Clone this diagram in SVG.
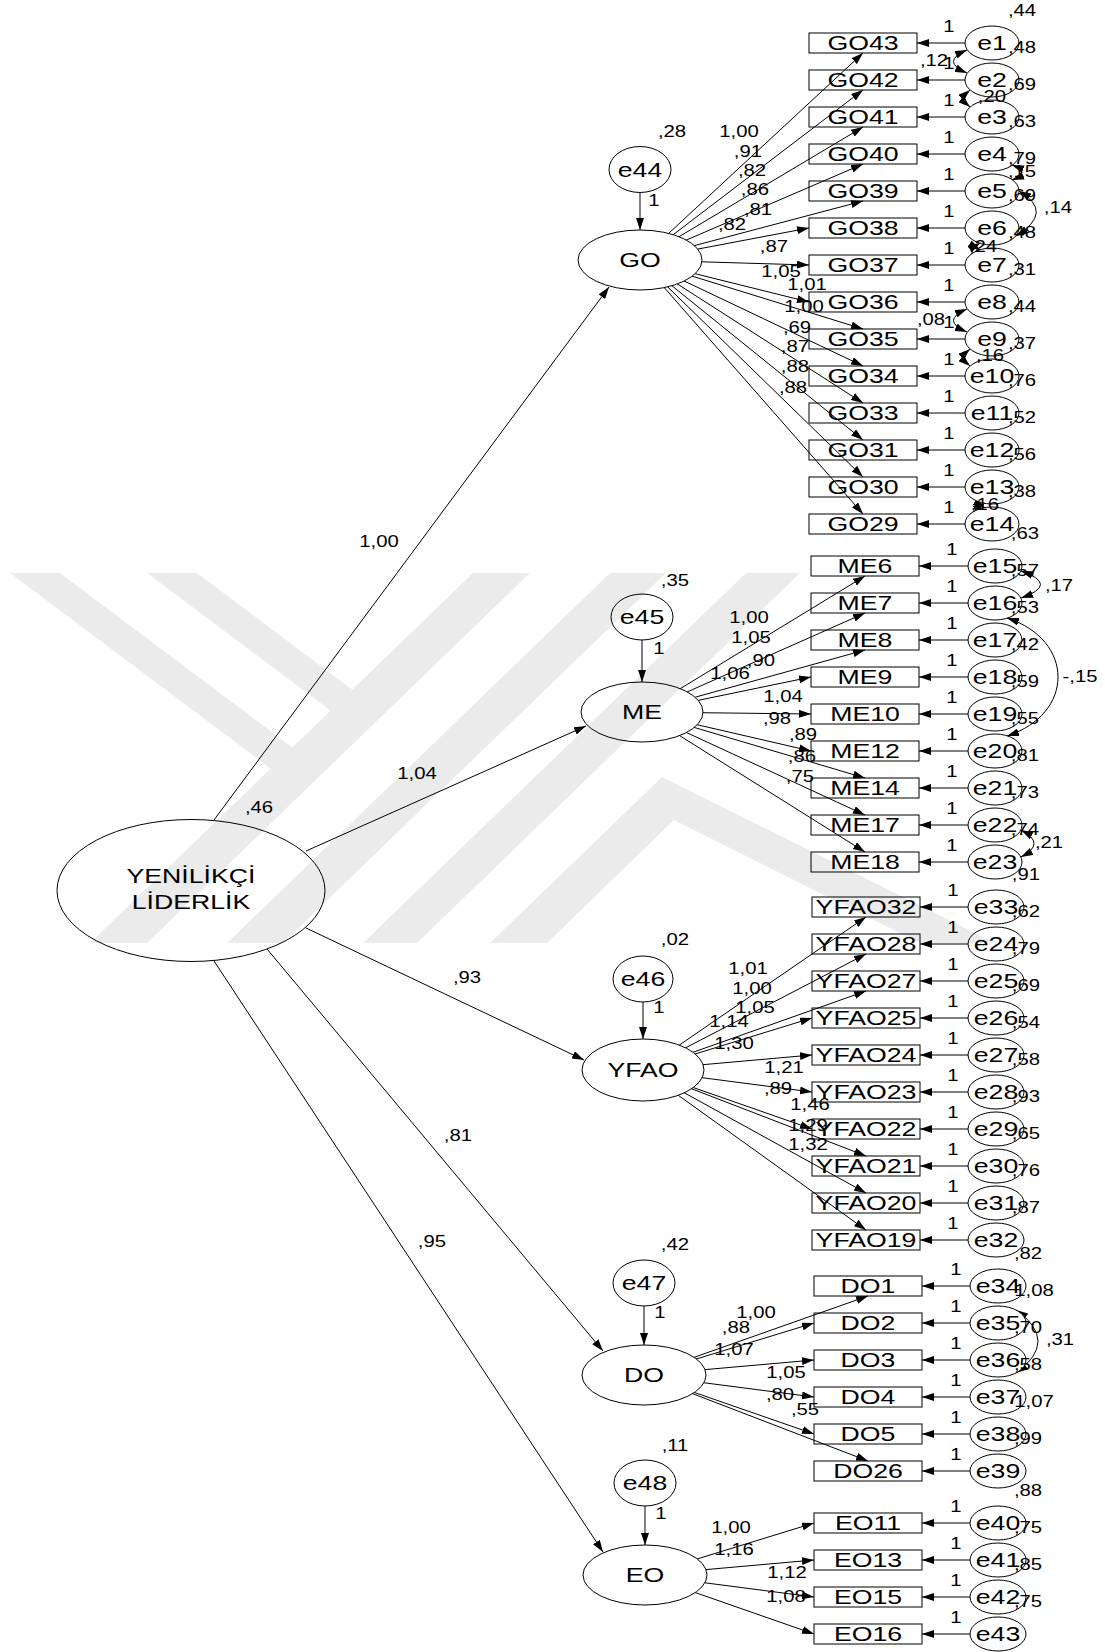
<svg xmlns="http://www.w3.org/2000/svg" width="1105" height="1652" viewBox="0 0 1105 1652">
<defs>
<style>
.t{font-family:"Liberation Sans",Arial,sans-serif;text-anchor:middle;fill:#000;transform-box:fill-box;transform-origin:center;transform:scaleX(1.27)}
.b{font-size:21px}
.s{font-size:16px}
.ln{stroke:#000;stroke-width:1;fill:none;marker-end:url(#ah)}
.cv{stroke:#000;stroke-width:1;fill:none;marker-start:url(#ah);marker-end:url(#ah)}
.lat{fill:#fff;stroke:#000;stroke-width:1}
.obs{fill:none;stroke:#000;stroke-width:1}
</style>
<marker id="ah" viewBox="0 0 12 8" refX="12" refY="4" markerWidth="12" markerHeight="8" markerUnits="userSpaceOnUse" orient="auto-start-reverse"><path d="M0,0L12,4L0,8z" fill="#000"/></marker>
</defs>
<rect width="1105" height="1652" fill="#fff"/>
<g id="connectors">
<line class="ln" x1="214" y1="820" x2="609" y2="287"/>
<line class="ln" x1="306" y1="851" x2="586" y2="726"/>
<line class="ln" x1="306" y1="928" x2="584" y2="1060"/>
<line class="ln" x1="267" y1="949" x2="603" y2="1351"/>
<line class="ln" x1="214" y1="961" x2="603" y2="1552"/>
<line class="ln" x1="640" y1="192" x2="640" y2="230"/>
<line class="ln" x1="642" y1="640" x2="642" y2="682"/>
<line class="ln" x1="643" y1="1002" x2="643" y2="1039"/>
<line class="ln" x1="644" y1="1306" x2="644" y2="1345"/>
<line class="ln" x1="645" y1="1506" x2="645" y2="1545"/>
<line class="ln" x1="640" y1="260" x2="863" y2="53"/>
<line class="ln" x1="640" y1="260" x2="863" y2="90"/>
<line class="ln" x1="640" y1="260" x2="863" y2="127"/>
<line class="ln" x1="640" y1="260" x2="863" y2="164"/>
<line class="ln" x1="640" y1="260" x2="863" y2="201"/>
<line class="ln" x1="640" y1="260" x2="809" y2="228"/>
<line class="ln" x1="640" y1="260" x2="809" y2="265"/>
<line class="ln" x1="640" y1="260" x2="809" y2="302"/>
<line class="ln" x1="640" y1="260" x2="863" y2="329"/>
<line class="ln" x1="640" y1="260" x2="863" y2="366"/>
<line class="ln" x1="640" y1="260" x2="863" y2="403"/>
<line class="ln" x1="640" y1="260" x2="863" y2="440"/>
<line class="ln" x1="640" y1="260" x2="863" y2="477"/>
<line class="ln" x1="640" y1="260" x2="863" y2="514"/>
<line class="ln" x1="642" y1="712" x2="865" y2="576"/>
<line class="ln" x1="642" y1="712" x2="865" y2="613"/>
<line class="ln" x1="642" y1="712" x2="865" y2="650"/>
<line class="ln" x1="642" y1="712" x2="811" y2="677"/>
<line class="ln" x1="642" y1="712" x2="811" y2="714"/>
<line class="ln" x1="642" y1="712" x2="811" y2="751"/>
<line class="ln" x1="642" y1="712" x2="865" y2="778"/>
<line class="ln" x1="642" y1="712" x2="865" y2="815"/>
<line class="ln" x1="642" y1="712" x2="865" y2="852"/>
<line class="ln" x1="643" y1="1070" x2="866" y2="917"/>
<line class="ln" x1="643" y1="1070" x2="866" y2="954"/>
<line class="ln" x1="643" y1="1070" x2="866" y2="991"/>
<line class="ln" x1="643" y1="1070" x2="812" y2="1018"/>
<line class="ln" x1="643" y1="1070" x2="812" y2="1055"/>
<line class="ln" x1="643" y1="1070" x2="812" y2="1092"/>
<line class="ln" x1="643" y1="1070" x2="812" y2="1129"/>
<line class="ln" x1="643" y1="1070" x2="866" y2="1156"/>
<line class="ln" x1="643" y1="1070" x2="866" y2="1193"/>
<line class="ln" x1="643" y1="1070" x2="866" y2="1230"/>
<line class="ln" x1="644" y1="1375" x2="868" y2="1296"/>
<line class="ln" x1="644" y1="1375" x2="814" y2="1323"/>
<line class="ln" x1="644" y1="1375" x2="814" y2="1360"/>
<line class="ln" x1="644" y1="1375" x2="814" y2="1397"/>
<line class="ln" x1="644" y1="1375" x2="814" y2="1434"/>
<line class="ln" x1="644" y1="1375" x2="868" y2="1461"/>
<line class="ln" x1="645" y1="1575" x2="814" y2="1523"/>
<line class="ln" x1="645" y1="1575" x2="814" y2="1560"/>
<line class="ln" x1="645" y1="1575" x2="814" y2="1597"/>
<line class="ln" x1="645" y1="1575" x2="814" y2="1634"/>
<line class="ln" x1="992" y1="43" x2="917" y2="43"/>
<line class="ln" x1="992" y1="80" x2="917" y2="80"/>
<line class="ln" x1="992" y1="117" x2="917" y2="117"/>
<line class="ln" x1="992" y1="154" x2="917" y2="154"/>
<line class="ln" x1="992" y1="191" x2="917" y2="191"/>
<line class="ln" x1="992" y1="228" x2="917" y2="228"/>
<line class="ln" x1="992" y1="265" x2="917" y2="265"/>
<line class="ln" x1="992" y1="302" x2="917" y2="302"/>
<line class="ln" x1="992" y1="339" x2="917" y2="339"/>
<line class="ln" x1="992" y1="376" x2="917" y2="376"/>
<line class="ln" x1="992" y1="413" x2="917" y2="413"/>
<line class="ln" x1="992" y1="450" x2="917" y2="450"/>
<line class="ln" x1="992" y1="487" x2="917" y2="487"/>
<line class="ln" x1="992" y1="524" x2="917" y2="524"/>
<line class="ln" x1="995" y1="566" x2="919" y2="566"/>
<line class="ln" x1="995" y1="603" x2="919" y2="603"/>
<line class="ln" x1="995" y1="640" x2="919" y2="640"/>
<line class="ln" x1="995" y1="677" x2="919" y2="677"/>
<line class="ln" x1="995" y1="714" x2="919" y2="714"/>
<line class="ln" x1="995" y1="751" x2="919" y2="751"/>
<line class="ln" x1="995" y1="788" x2="919" y2="788"/>
<line class="ln" x1="995" y1="825" x2="919" y2="825"/>
<line class="ln" x1="995" y1="862" x2="919" y2="862"/>
<line class="ln" x1="996" y1="907" x2="920" y2="907"/>
<line class="ln" x1="996" y1="944" x2="920" y2="944"/>
<line class="ln" x1="996" y1="981" x2="920" y2="981"/>
<line class="ln" x1="996" y1="1018" x2="920" y2="1018"/>
<line class="ln" x1="996" y1="1055" x2="920" y2="1055"/>
<line class="ln" x1="996" y1="1092" x2="920" y2="1092"/>
<line class="ln" x1="996" y1="1129" x2="920" y2="1129"/>
<line class="ln" x1="996" y1="1166" x2="920" y2="1166"/>
<line class="ln" x1="996" y1="1203" x2="920" y2="1203"/>
<line class="ln" x1="996" y1="1240" x2="920" y2="1240"/>
<line class="ln" x1="998" y1="1286" x2="922" y2="1286"/>
<line class="ln" x1="998" y1="1323" x2="922" y2="1323"/>
<line class="ln" x1="998" y1="1360" x2="922" y2="1360"/>
<line class="ln" x1="998" y1="1397" x2="922" y2="1397"/>
<line class="ln" x1="998" y1="1434" x2="922" y2="1434"/>
<line class="ln" x1="998" y1="1471" x2="922" y2="1471"/>
<line class="ln" x1="998" y1="1523" x2="922" y2="1523"/>
<line class="ln" x1="998" y1="1560" x2="922" y2="1560"/>
<line class="ln" x1="998" y1="1597" x2="922" y2="1597"/>
<line class="ln" x1="998" y1="1634" x2="922" y2="1634"/>
<path class="cv" d="M967,50 Q940,61.5 967,73"/>
<path class="cv" d="M970,90 Q960,98.5 970,107"/>
<path class="cv" d="M1012,165 Q1032,172.5 1012,180"/>
<path class="cv" d="M1019,191 Q1055,212 1016,236"/>
<path class="cv" d="M980,243 Q974,246.5 980,250"/>
<path class="cv" d="M967,309 Q940,320.5 967,332"/>
<path class="cv" d="M970,349 Q960,357.5 970,366"/>
<path class="cv" d="M985,503 Q981,505.5 985,508"/>
<path class="cv" d="M1021,571 Q1060,584.5 1021,598"/>
<path class="cv" d="M1007,618 C1075,640 1075,714 1007,736"/>
<path class="cv" d="M1021,830 Q1047,843.5 1021,857"/>
<path class="cv" d="M1016,1310 Q1060,1341 1016,1373"/>
</g>
<g id="YENILIKCI_LIDERLIK"><ellipse class="lat" cx="191" cy="890.5" rx="134" ry="71"/><text class="t b" x="191" y="883">YENİLİKÇİ</text><text class="t b" x="191" y="909">LİDERLİK</text></g>
<g id="GO"><ellipse class="lat" cx="640" cy="260" rx="62" ry="30"/><text class="t b" x="640" y="267.5">GO</text></g>
<g id="ME"><ellipse class="lat" cx="642" cy="712" rx="61" ry="30"/><text class="t b" x="642" y="719.5">ME</text></g>
<g id="YFAO"><ellipse class="lat" cx="643" cy="1070" rx="61" ry="31"/><text class="t b" x="643" y="1077.5">YFAO</text></g>
<g id="DO"><ellipse class="lat" cx="644" cy="1375" rx="62" ry="30"/><text class="t b" x="644" y="1382.5">DO</text></g>
<g id="EO"><ellipse class="lat" cx="645" cy="1575" rx="62" ry="30"/><text class="t b" x="645" y="1582.5">EO</text></g>
<g id="e44"><ellipse class="lat" cx="640" cy="169.5" rx="31" ry="23"/><text class="t b" x="640" y="177">e44</text></g>
<g id="e45"><ellipse class="lat" cx="642" cy="617" rx="31" ry="23"/><text class="t b" x="642" y="624.5">e45</text></g>
<g id="e46"><ellipse class="lat" cx="643" cy="979" rx="30" ry="23"/><text class="t b" x="643" y="986.5">e46</text></g>
<g id="e47"><ellipse class="lat" cx="644" cy="1283" rx="31" ry="23"/><text class="t b" x="644" y="1290.5">e47</text></g>
<g id="e48"><ellipse class="lat" cx="645" cy="1483" rx="31" ry="23"/><text class="t b" x="645" y="1490.5">e48</text></g>
<g id="GO43"><rect class="obs" x="809" y="33" width="108" height="20"/><text class="t b" x="863" y="50.5">GO43</text></g>
<g id="GO42"><rect class="obs" x="809" y="70" width="108" height="20"/><text class="t b" x="863" y="87.5">GO42</text></g>
<g id="GO41"><rect class="obs" x="809" y="107" width="108" height="20"/><text class="t b" x="863" y="124.5">GO41</text></g>
<g id="GO40"><rect class="obs" x="809" y="144" width="108" height="20"/><text class="t b" x="863" y="161.5">GO40</text></g>
<g id="GO39"><rect class="obs" x="809" y="181" width="108" height="20"/><text class="t b" x="863" y="198.5">GO39</text></g>
<g id="GO38"><rect class="obs" x="809" y="218" width="108" height="20"/><text class="t b" x="863" y="235.5">GO38</text></g>
<g id="GO37"><rect class="obs" x="809" y="255" width="108" height="20"/><text class="t b" x="863" y="272.5">GO37</text></g>
<g id="GO36"><rect class="obs" x="809" y="292" width="108" height="20"/><text class="t b" x="863" y="309.5">GO36</text></g>
<g id="GO35"><rect class="obs" x="809" y="329" width="108" height="20"/><text class="t b" x="863" y="346.5">GO35</text></g>
<g id="GO34"><rect class="obs" x="809" y="366" width="108" height="20"/><text class="t b" x="863" y="383.5">GO34</text></g>
<g id="GO33"><rect class="obs" x="809" y="403" width="108" height="20"/><text class="t b" x="863" y="420.5">GO33</text></g>
<g id="GO31"><rect class="obs" x="809" y="440" width="108" height="20"/><text class="t b" x="863" y="457.5">GO31</text></g>
<g id="GO30"><rect class="obs" x="809" y="477" width="108" height="20"/><text class="t b" x="863" y="494.5">GO30</text></g>
<g id="GO29"><rect class="obs" x="809" y="514" width="108" height="20"/><text class="t b" x="863" y="531.5">GO29</text></g>
<g id="ME6"><rect class="obs" x="811" y="556" width="108" height="20"/><text class="t b" x="865" y="573.5">ME6</text></g>
<g id="ME7"><rect class="obs" x="811" y="593" width="108" height="20"/><text class="t b" x="865" y="610.5">ME7</text></g>
<g id="ME8"><rect class="obs" x="811" y="630" width="108" height="20"/><text class="t b" x="865" y="647.5">ME8</text></g>
<g id="ME9"><rect class="obs" x="811" y="667" width="108" height="20"/><text class="t b" x="865" y="684.5">ME9</text></g>
<g id="ME10"><rect class="obs" x="811" y="704" width="108" height="20"/><text class="t b" x="865" y="721.5">ME10</text></g>
<g id="ME12"><rect class="obs" x="811" y="741" width="108" height="20"/><text class="t b" x="865" y="758.5">ME12</text></g>
<g id="ME14"><rect class="obs" x="811" y="778" width="108" height="20"/><text class="t b" x="865" y="795.5">ME14</text></g>
<g id="ME17"><rect class="obs" x="811" y="815" width="108" height="20"/><text class="t b" x="865" y="832.5">ME17</text></g>
<g id="ME18"><rect class="obs" x="811" y="852" width="108" height="20"/><text class="t b" x="865" y="869.5">ME18</text></g>
<g id="YFAO32"><rect class="obs" x="812" y="897" width="108" height="20"/><text class="t b" x="866" y="914.5">YFAO32</text></g>
<g id="YFAO28"><rect class="obs" x="812" y="934" width="108" height="20"/><text class="t b" x="866" y="951.5">YFAO28</text></g>
<g id="YFAO27"><rect class="obs" x="812" y="971" width="108" height="20"/><text class="t b" x="866" y="988.5">YFAO27</text></g>
<g id="YFAO25"><rect class="obs" x="812" y="1008" width="108" height="20"/><text class="t b" x="866" y="1025.5">YFAO25</text></g>
<g id="YFAO24"><rect class="obs" x="812" y="1045" width="108" height="20"/><text class="t b" x="866" y="1062.5">YFAO24</text></g>
<g id="YFAO23"><rect class="obs" x="812" y="1082" width="108" height="20"/><text class="t b" x="866" y="1099.5">YFAO23</text></g>
<g id="YFAO22"><rect class="obs" x="812" y="1119" width="108" height="20"/><text class="t b" x="866" y="1136.5">YFAO22</text></g>
<g id="YFAO21"><rect class="obs" x="812" y="1156" width="108" height="20"/><text class="t b" x="866" y="1173.5">YFAO21</text></g>
<g id="YFAO20"><rect class="obs" x="812" y="1193" width="108" height="20"/><text class="t b" x="866" y="1210.5">YFAO20</text></g>
<g id="YFAO19"><rect class="obs" x="812" y="1230" width="108" height="20"/><text class="t b" x="866" y="1247.5">YFAO19</text></g>
<g id="DO1"><rect class="obs" x="814" y="1276" width="108" height="20"/><text class="t b" x="868" y="1293.5">DO1</text></g>
<g id="DO2"><rect class="obs" x="814" y="1313" width="108" height="20"/><text class="t b" x="868" y="1330.5">DO2</text></g>
<g id="DO3"><rect class="obs" x="814" y="1350" width="108" height="20"/><text class="t b" x="868" y="1367.5">DO3</text></g>
<g id="DO4"><rect class="obs" x="814" y="1387" width="108" height="20"/><text class="t b" x="868" y="1404.5">DO4</text></g>
<g id="DO5"><rect class="obs" x="814" y="1424" width="108" height="20"/><text class="t b" x="868" y="1441.5">DO5</text></g>
<g id="DO26"><rect class="obs" x="814" y="1461" width="108" height="20"/><text class="t b" x="868" y="1478.5">DO26</text></g>
<g id="EO11"><rect class="obs" x="814" y="1513" width="108" height="20"/><text class="t b" x="868" y="1530.5">EO11</text></g>
<g id="EO13"><rect class="obs" x="814" y="1550" width="108" height="20"/><text class="t b" x="868" y="1567.5">EO13</text></g>
<g id="EO15"><rect class="obs" x="814" y="1587" width="108" height="20"/><text class="t b" x="868" y="1604.5">EO15</text></g>
<g id="EO16"><rect class="obs" x="814" y="1624" width="108" height="20"/><text class="t b" x="868" y="1641.5">EO16</text></g>
<g id="e1"><ellipse class="lat" cx="992" cy="43" rx="27" ry="17"/><text class="t b" x="992" y="50.5">e1</text></g>
<g id="e2"><ellipse class="lat" cx="992" cy="80" rx="27" ry="17"/><text class="t b" x="992" y="87.5">e2</text></g>
<g id="e3"><ellipse class="lat" cx="992" cy="117" rx="27" ry="17"/><text class="t b" x="992" y="124.5">e3</text></g>
<g id="e4"><ellipse class="lat" cx="992" cy="154" rx="27" ry="17"/><text class="t b" x="992" y="161.5">e4</text></g>
<g id="e5"><ellipse class="lat" cx="992" cy="191" rx="27" ry="17"/><text class="t b" x="992" y="198.5">e5</text></g>
<g id="e6"><ellipse class="lat" cx="992" cy="228" rx="27" ry="17"/><text class="t b" x="992" y="235.5">e6</text></g>
<g id="e7"><ellipse class="lat" cx="992" cy="265" rx="27" ry="17"/><text class="t b" x="992" y="272.5">e7</text></g>
<g id="e8"><ellipse class="lat" cx="992" cy="302" rx="27" ry="17"/><text class="t b" x="992" y="309.5">e8</text></g>
<g id="e9"><ellipse class="lat" cx="992" cy="339" rx="27" ry="17"/><text class="t b" x="992" y="346.5">e9</text></g>
<g id="e10"><ellipse class="lat" cx="992" cy="376" rx="27" ry="17"/><text class="t b" x="992" y="383.5">e10</text></g>
<g id="e11"><ellipse class="lat" cx="992" cy="413" rx="27" ry="17"/><text class="t b" x="992" y="420.5">e11</text></g>
<g id="e12"><ellipse class="lat" cx="992" cy="450" rx="27" ry="17"/><text class="t b" x="992" y="457.5">e12</text></g>
<g id="e13"><ellipse class="lat" cx="992" cy="487" rx="27" ry="17"/><text class="t b" x="992" y="494.5">e13</text></g>
<g id="e14"><ellipse class="lat" cx="992" cy="524" rx="27" ry="17"/><text class="t b" x="992" y="531.5">e14</text></g>
<g id="e15"><ellipse class="lat" cx="995" cy="566" rx="27" ry="17"/><text class="t b" x="995" y="573.5">e15</text></g>
<g id="e16"><ellipse class="lat" cx="995" cy="603" rx="27" ry="17"/><text class="t b" x="995" y="610.5">e16</text></g>
<g id="e17"><ellipse class="lat" cx="995" cy="640" rx="27" ry="17"/><text class="t b" x="995" y="647.5">e17</text></g>
<g id="e18"><ellipse class="lat" cx="995" cy="677" rx="27" ry="17"/><text class="t b" x="995" y="684.5">e18</text></g>
<g id="e19"><ellipse class="lat" cx="995" cy="714" rx="27" ry="17"/><text class="t b" x="995" y="721.5">e19</text></g>
<g id="e20"><ellipse class="lat" cx="995" cy="751" rx="27" ry="17"/><text class="t b" x="995" y="758.5">e20</text></g>
<g id="e21"><ellipse class="lat" cx="995" cy="788" rx="27" ry="17"/><text class="t b" x="995" y="795.5">e21</text></g>
<g id="e22"><ellipse class="lat" cx="995" cy="825" rx="27" ry="17"/><text class="t b" x="995" y="832.5">e22</text></g>
<g id="e23"><ellipse class="lat" cx="995" cy="862" rx="27" ry="17"/><text class="t b" x="995" y="869.5">e23</text></g>
<g id="e33"><ellipse class="lat" cx="996" cy="907" rx="28" ry="17"/><text class="t b" x="996" y="914.5">e33</text></g>
<g id="e24"><ellipse class="lat" cx="996" cy="944" rx="28" ry="17"/><text class="t b" x="996" y="951.5">e24</text></g>
<g id="e25"><ellipse class="lat" cx="996" cy="981" rx="28" ry="17"/><text class="t b" x="996" y="988.5">e25</text></g>
<g id="e26"><ellipse class="lat" cx="996" cy="1018" rx="28" ry="17"/><text class="t b" x="996" y="1025.5">e26</text></g>
<g id="e27"><ellipse class="lat" cx="996" cy="1055" rx="28" ry="17"/><text class="t b" x="996" y="1062.5">e27</text></g>
<g id="e28"><ellipse class="lat" cx="996" cy="1092" rx="28" ry="17"/><text class="t b" x="996" y="1099.5">e28</text></g>
<g id="e29"><ellipse class="lat" cx="996" cy="1129" rx="28" ry="17"/><text class="t b" x="996" y="1136.5">e29</text></g>
<g id="e30"><ellipse class="lat" cx="996" cy="1166" rx="28" ry="17"/><text class="t b" x="996" y="1173.5">e30</text></g>
<g id="e31"><ellipse class="lat" cx="996" cy="1203" rx="28" ry="17"/><text class="t b" x="996" y="1210.5">e31</text></g>
<g id="e32"><ellipse class="lat" cx="996" cy="1240" rx="28" ry="17"/><text class="t b" x="996" y="1247.5">e32</text></g>
<g id="e34"><ellipse class="lat" cx="998" cy="1286" rx="28" ry="17"/><text class="t b" x="998" y="1293.5">e34</text></g>
<g id="e35"><ellipse class="lat" cx="998" cy="1323" rx="28" ry="17"/><text class="t b" x="998" y="1330.5">e35</text></g>
<g id="e36"><ellipse class="lat" cx="998" cy="1360" rx="28" ry="17"/><text class="t b" x="998" y="1367.5">e36</text></g>
<g id="e37"><ellipse class="lat" cx="998" cy="1397" rx="28" ry="17"/><text class="t b" x="998" y="1404.5">e37</text></g>
<g id="e38"><ellipse class="lat" cx="998" cy="1434" rx="28" ry="17"/><text class="t b" x="998" y="1441.5">e38</text></g>
<g id="e39"><ellipse class="lat" cx="998" cy="1471" rx="28" ry="17"/><text class="t b" x="998" y="1478.5">e39</text></g>
<g id="e40"><ellipse class="lat" cx="998" cy="1523" rx="28" ry="17"/><text class="t b" x="998" y="1530.5">e40</text></g>
<g id="e41"><ellipse class="lat" cx="998" cy="1560" rx="28" ry="17"/><text class="t b" x="998" y="1567.5">e41</text></g>
<g id="e42"><ellipse class="lat" cx="998" cy="1597" rx="28" ry="17"/><text class="t b" x="998" y="1604.5">e42</text></g>
<g id="e43"><ellipse class="lat" cx="998" cy="1634" rx="28" ry="17"/><text class="t b" x="998" y="1641.5">e43</text></g>
<g id="labels" class="s">
<text class="t s" x="379" y="547">1,00</text>
<text class="t s" x="417" y="779">1,04</text>
<text class="t s" x="467" y="983">,93</text>
<text class="t s" x="458" y="1141">,81</text>
<text class="t s" x="432" y="1247">,95</text>
<text class="t s" x="259" y="813">,46</text>
<text class="t s" x="672" y="137">,28</text>
<text class="t s" x="654" y="206">1</text>
<text class="t s" x="675" y="586">,35</text>
<text class="t s" x="659" y="654">1</text>
<text class="t s" x="675" y="945">,02</text>
<text class="t s" x="659" y="1013">1</text>
<text class="t s" x="675" y="1250">,42</text>
<text class="t s" x="660" y="1318">1</text>
<text class="t s" x="675" y="1451">,11</text>
<text class="t s" x="661" y="1519">1</text>
<text class="t s" x="739" y="137">1,00</text>
<text class="t s" x="748" y="157">,91</text>
<text class="t s" x="752" y="176">,82</text>
<text class="t s" x="755" y="195">,86</text>
<text class="t s" x="758" y="215">,81</text>
<text class="t s" x="732" y="230">,82</text>
<text class="t s" x="774" y="252">,87</text>
<text class="t s" x="781" y="277">1,05</text>
<text class="t s" x="807" y="290">1,01</text>
<text class="t s" x="804" y="312">1,00</text>
<text class="t s" x="797" y="333">,69</text>
<text class="t s" x="795" y="352">,87</text>
<text class="t s" x="795" y="372">,88</text>
<text class="t s" x="793" y="393">,88</text>
<text class="t s" x="749" y="623">1,00</text>
<text class="t s" x="751" y="643">1,05</text>
<text class="t s" x="761" y="666">,90</text>
<text class="t s" x="730" y="679">1,06</text>
<text class="t s" x="783" y="702">1,04</text>
<text class="t s" x="777" y="724">,98</text>
<text class="t s" x="803" y="740">,89</text>
<text class="t s" x="802" y="762">,86</text>
<text class="t s" x="800" y="782">,75</text>
<text class="t s" x="748" y="974">1,01</text>
<text class="t s" x="752" y="994">1,00</text>
<text class="t s" x="755" y="1013">1,05</text>
<text class="t s" x="729" y="1027">1,14</text>
<text class="t s" x="734" y="1049">1,30</text>
<text class="t s" x="784" y="1073">1,21</text>
<text class="t s" x="778" y="1094">,89</text>
<text class="t s" x="810" y="1110">1,46</text>
<text class="t s" x="808" y="1131">1,29</text>
<text class="t s" x="808" y="1150">1,32</text>
<text class="t s" x="756" y="1318">1,00</text>
<text class="t s" x="736" y="1333">,88</text>
<text class="t s" x="734" y="1355">1,07</text>
<text class="t s" x="786" y="1378">1,05</text>
<text class="t s" x="780" y="1400">,80</text>
<text class="t s" x="805" y="1415">,55</text>
<text class="t s" x="731" y="1533">1,00</text>
<text class="t s" x="734" y="1555">1,16</text>
<text class="t s" x="787" y="1578">1,12</text>
<text class="t s" x="786" y="1602">1,08</text>
<text class="t s" x="949" y="32">1</text>
<text class="t s" x="949" y="69">1</text>
<text class="t s" x="949" y="106">1</text>
<text class="t s" x="949" y="143">1</text>
<text class="t s" x="949" y="180">1</text>
<text class="t s" x="949" y="217">1</text>
<text class="t s" x="949" y="254">1</text>
<text class="t s" x="949" y="291">1</text>
<text class="t s" x="949" y="328">1</text>
<text class="t s" x="949" y="365">1</text>
<text class="t s" x="949" y="402">1</text>
<text class="t s" x="949" y="439">1</text>
<text class="t s" x="949" y="476">1</text>
<text class="t s" x="949" y="513">1</text>
<text class="t s" x="952" y="555">1</text>
<text class="t s" x="952" y="592">1</text>
<text class="t s" x="952" y="629">1</text>
<text class="t s" x="952" y="666">1</text>
<text class="t s" x="952" y="703">1</text>
<text class="t s" x="952" y="740">1</text>
<text class="t s" x="952" y="777">1</text>
<text class="t s" x="952" y="814">1</text>
<text class="t s" x="952" y="851">1</text>
<text class="t s" x="953" y="896">1</text>
<text class="t s" x="953" y="933">1</text>
<text class="t s" x="953" y="970">1</text>
<text class="t s" x="953" y="1007">1</text>
<text class="t s" x="953" y="1044">1</text>
<text class="t s" x="953" y="1081">1</text>
<text class="t s" x="953" y="1118">1</text>
<text class="t s" x="953" y="1155">1</text>
<text class="t s" x="953" y="1192">1</text>
<text class="t s" x="953" y="1229">1</text>
<text class="t s" x="956" y="1275">1</text>
<text class="t s" x="956" y="1312">1</text>
<text class="t s" x="956" y="1349">1</text>
<text class="t s" x="956" y="1386">1</text>
<text class="t s" x="956" y="1423">1</text>
<text class="t s" x="956" y="1460">1</text>
<text class="t s" x="956" y="1512">1</text>
<text class="t s" x="956" y="1549">1</text>
<text class="t s" x="956" y="1586">1</text>
<text class="t s" x="956" y="1623">1</text>
<text class="t s" x="1022" y="16">,44</text>
<text class="t s" x="1022" y="53">,48</text>
<text class="t s" x="1022" y="90">,69</text>
<text class="t s" x="1022" y="127">,63</text>
<text class="t s" x="1022" y="164">,79</text>
<text class="t s" x="1022" y="201">,69</text>
<text class="t s" x="1022" y="238">,48</text>
<text class="t s" x="1022" y="275">,31</text>
<text class="t s" x="1022" y="312">,44</text>
<text class="t s" x="1022" y="349">,37</text>
<text class="t s" x="1022" y="386">,76</text>
<text class="t s" x="1022" y="423">,52</text>
<text class="t s" x="1022" y="460">,56</text>
<text class="t s" x="1022" y="497">,38</text>
<text class="t s" x="1025" y="539">,63</text>
<text class="t s" x="1025" y="576">,57</text>
<text class="t s" x="1025" y="613">,53</text>
<text class="t s" x="1025" y="650">,42</text>
<text class="t s" x="1025" y="687">,59</text>
<text class="t s" x="1025" y="724">,55</text>
<text class="t s" x="1025" y="761">,81</text>
<text class="t s" x="1025" y="798">,73</text>
<text class="t s" x="1025" y="835">,74</text>
<text class="t s" x="1026" y="880">,91</text>
<text class="t s" x="1026" y="917">,62</text>
<text class="t s" x="1026" y="954">,79</text>
<text class="t s" x="1026" y="991">,69</text>
<text class="t s" x="1026" y="1028">,54</text>
<text class="t s" x="1026" y="1065">,58</text>
<text class="t s" x="1026" y="1102">,93</text>
<text class="t s" x="1026" y="1139">,65</text>
<text class="t s" x="1026" y="1176">,76</text>
<text class="t s" x="1026" y="1213">,87</text>
<text class="t s" x="1028" y="1259">,82</text>
<text class="t s" x="1034" y="1296">1,08</text>
<text class="t s" x="1028" y="1333">,70</text>
<text class="t s" x="1028" y="1370">,58</text>
<text class="t s" x="1034" y="1407">1,07</text>
<text class="t s" x="1028" y="1444">,99</text>
<text class="t s" x="1028" y="1496">,88</text>
<text class="t s" x="1028" y="1533">,75</text>
<text class="t s" x="1028" y="1570">,85</text>
<text class="t s" x="1028" y="1607">,75</text>
<text class="t s" x="934" y="66">,12</text>
<text class="t s" x="992" y="102">,20</text>
<text class="t s" x="1022" y="177">,15</text>
<text class="t s" x="1058" y="213">,14</text>
<text class="t s" x="983" y="252">,24</text>
<text class="t s" x="931" y="325">,08</text>
<text class="t s" x="990" y="361">,16</text>
<text class="t s" x="985" y="510">,16</text>
<text class="t s" x="1059" y="591">,17</text>
<text class="t s" x="1080" y="682">-,15</text>
<text class="t s" x="1049" y="848">,21</text>
<text class="t s" x="1060" y="1345">,31</text>
</g>
<g id="watermark" opacity="0.08">
<path fill="#000" d="M10,573L60,573L292.5,747.4L270.6,768.5Z M147,573L197,573L352.4,689.8L330.5,710.6Z M90,943L147,943L530,573L473,573Z M227,943L283,943L666,573L610,573Z M363,943L417,943L800,573L746,573Z M490,943L662,777L995,943L920,943L674,820L547,943Z"/>
</g>
</svg>
